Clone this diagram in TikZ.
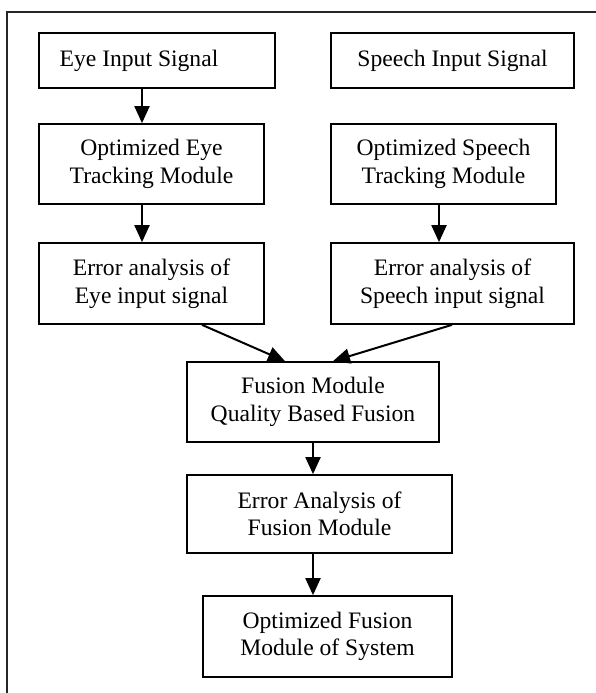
\documentclass[tikz,border=0pt]{standalone}
\usepackage{fontspec}
\setmainfont{Liberation Serif}
\usetikzlibrary{arrows.meta}
\begin{document}
\begin{tikzpicture}[x=1pt,y=-1pt,
  box/.style={draw, line width=1.7pt, inner sep=0pt, align=center,
    font=\fontsize{23.6}{27.5}\selectfont},
  txt/.style={inner sep=0pt, align=center, font=\fontsize{23.6}{27.5}\selectfont},
  flow/.style={line width=2pt, -{Triangle[width=15pt,length=17pt]}}]
\useasboundingbox (0,0) rectangle (596,693);
\draw[line width=1.6pt, black!85] (596,12) -- (7,12) -- (7,693);
% boxes
\node[box, minimum width=236pt, minimum height=55pt] (eyein) at (157,60.5) {};
\node[txt] (eyeintxt) at (139,60.5) {Eye Input Signal};
\node[box, minimum width=243pt, minimum height=55pt] (spin) at (452.5,60.5) {Speech Input Signal};
\node[box, minimum width=225pt, minimum height=80pt] (opteye) at (151.5,164) {Optimized Eye\\Tracking Module};
\node[box, minimum width=225pt, minimum height=80pt] (optsp) at (443.5,164) {Optimized Speech\\Tracking Module};
\node[box, minimum width=225pt, minimum height=81pt] (erreye) at (151.5,283.5) {Error analysis of\\Eye input signal};
\node[box, minimum width=243pt, minimum height=81pt] (errsp) at (452.5,283.5) {Error analysis of\\Speech input signal};
\node[box, minimum width=252pt, minimum height=80pt] (fusion) at (313,402) {Fusion Module\\Quality Based Fusion};
\node[box, minimum width=265pt, minimum height=78pt] (errfus) at (319.5,514) {Error Analysis of\\Fusion Module};
\node[box, minimum width=249pt, minimum height=81pt] (optfus) at (327.5,636.5) {Optimized Fusion\\Module of System};
% arrow columns
\coordinate (cA) at (142,0);
\coordinate (cB) at (439,0);
\coordinate (cC) at (313,0);
\coordinate (dA) at (202,0);
\coordinate (dB) at (285,0);
\coordinate (dC) at (452,0);
\coordinate (dD) at (333,0);
% connectors
\draw[flow] (eyein.south -| cA) -- (opteye.north -| cA);
\draw[flow] (opteye.south -| cA) -- (erreye.north -| cA);
\draw[flow] (optsp.south -| cB) -- (errsp.north -| cB);
\draw[flow] (erreye.south -| dA) -- (fusion.north -| dB);
\draw[flow] (errsp.south -| dC) -- (fusion.north -| dD);
\draw[flow] (fusion.south -| cC) -- (errfus.north -| cC);
\draw[flow] (errfus.south -| cC) -- (optfus.north -| cC);
\end{tikzpicture}
\end{document}
